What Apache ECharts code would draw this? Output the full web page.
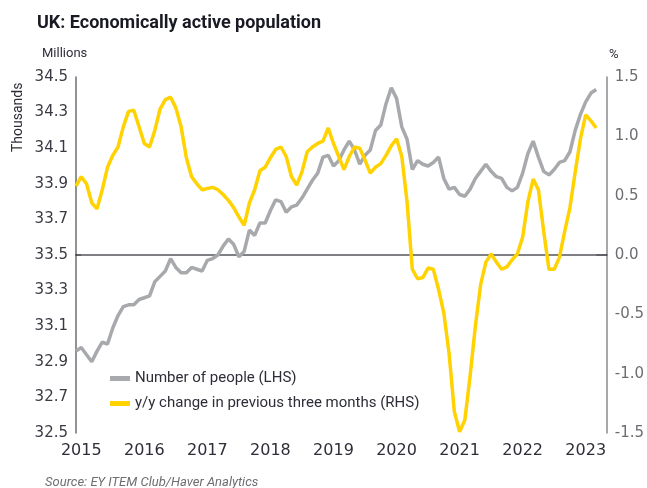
<!DOCTYPE html>
<html>
<head>
<meta charset="utf-8">
<script src="https://cdn.jsdelivr.net/npm/echarts@6/dist/echarts.min.js"></script>
<style>
  html, body { margin: 0; padding: 0; background: #fff; }
  #main { width: 647px; height: 488px; }
</style>
</head>
<body>
<div id="main"></div>
<script>
// monthly, Dec 2014 .. May 2023 (last two months have no data)
const months = [];
for (let y = 2014; y <= 2023; y++) {
  for (let m = 1; m <= 12; m++) {
    if (y === 2014 && m < 12) continue;
    if (y === 2023 && m > 5) continue;
    months.push(y + '-' + String(m).padStart(2, '0'));
  }
}

// Number of people, millions (LHS)
const people = [
  32.96, 32.98, 32.94, 32.90, 32.96, 33.01, 33.00, 33.09, 33.16, 33.21,
  33.22, 33.22, 33.25, 33.26, 33.27, 33.35, 33.38, 33.41, 33.48, 33.43,
  33.40, 33.40, 33.43, 33.42, 33.41, 33.47, 33.48, 33.50, 33.55, 33.59,
  33.56, 33.49, 33.52, 33.64, 33.61, 33.68, 33.68, 33.75, 33.81, 33.80,
  33.74, 33.77, 33.78, 33.82, 33.87, 33.92, 33.96, 34.05, 34.06, 34.00,
  34.03, 34.09, 34.14, 34.09, 34.01, 34.06, 34.09, 34.20, 34.23, 34.35,
  34.44, 34.38, 34.22, 34.15, 33.98, 34.03, 34.01, 34.00, 34.02, 34.05,
  33.93, 33.87, 33.88, 33.84, 33.83, 33.87, 33.93, 33.97, 34.01, 33.97,
  33.94, 33.93, 33.88, 33.86, 33.88, 33.96, 34.07, 34.14, 34.05, 33.97,
  33.95, 33.98, 34.02, 34.03, 34.08, 34.20, 34.29, 34.36, 34.41, 34.43,
  null, null
];

// y/y change in previous three months, % (RHS)
const change = [
  0.58, 0.66, 0.60, 0.44, 0.39, 0.55, 0.74, 0.84, 0.91, 1.08,
  1.21, 1.22, 1.08, 0.94, 0.91, 1.05, 1.23, 1.31, 1.33, 1.24,
  1.08, 0.82, 0.66, 0.60, 0.55, 0.56, 0.57, 0.55, 0.51, 0.46,
  0.40, 0.32, 0.25, 0.44, 0.55, 0.71, 0.74, 0.82, 0.89, 0.91,
  0.83, 0.66, 0.59, 0.70, 0.87, 0.91, 0.94, 0.96, 1.07, 0.94,
  0.83, 0.72, 0.83, 0.91, 0.90, 0.80, 0.69, 0.74, 0.77, 0.84,
  0.92, 0.98, 0.83, 0.45, -0.12, -0.20, -0.19, -0.11, -0.12, -0.29,
  -0.49, -0.83, -1.32, -1.49, -1.39, -1.02, -0.60, -0.25, -0.06, 0.01,
  -0.06, -0.12, -0.10, -0.04, 0.01, 0.15, 0.45, 0.64, 0.55, 0.20,
  -0.12, -0.12, -0.02, 0.20, 0.40, 0.70, 0.98, 1.18, 1.13, 1.07,
  null, null
];

const seriesNames = ['Number of people (LHS)', 'y/y change in previous three months (RHS)'];

const chart = echarts.init(document.getElementById('main'));
const font = 'DejaVu Sans';
const option = {
  animation: false,
  grid: { left: 76, right: 38, top: 77, bottom: 55 },
  graphic: [
    { type: 'text', left: 37, top: 14,
      style: { text: 'UK: Economically active population', font: 'bold 18px Roboto', fill: '#1a1a24' } },
    { type: 'text', left: 42, top: 47,
      style: { text: 'Millions', font: '13px Roboto', fill: '#2e2e38' } },
    { type: 'text', left: 609, top: 48,
      style: { text: '%', font: '13px Roboto', fill: '#2e2e38' } },
    { type: 'text', x: 11, y: 152, rotation: Math.PI / 2,
      style: { text: 'Thousands', font: '14px Roboto', fill: '#2e2e38' } },
    { type: 'text', left: 45, top: 476,
      style: { text: 'Source: EY ITEM Club/Haver Analytics', font: 'italic 13px Roboto', fill: '#6d6e71' } }
  ],
  legend: {
    orient: 'vertical',
    left: 105,
    top: 366,
    itemWidth: 20,
    itemHeight: 5,
    itemGap: 10,
    icon: 'rect',
    textStyle: { fontFamily: 'Roboto', fontSize: 15, color: '#2e2e38' },
    data: seriesNames
  },
  xAxis: {
    type: 'category',
    data: months,
    boundaryGap: false,
    axisTick: { show: false },
    axisLine: { lineStyle: { color: '#2e2e38', width: 1.5 } },
    axisLabel: {
      interval: (idx, val) => val.endsWith('-01'),
      formatter: val => val.slice(0, 4),
      fontFamily: font, fontSize: 16, color: '#2e2e38', margin: 10
    }
  },
  yAxis: [
    {
      type: 'value', min: 32.5, max: 34.5, interval: 0.2,
      splitLine: { show: false },
      axisTick: { show: false },
      axisLine: { show: true, lineStyle: { color: '#6d6e71', width: 1.5 } },
      axisLabel: { formatter: v => v.toFixed(1), fontFamily: font, fontSize: 15, color: '#3a3a44', margin: 8 }
    },
    {
      type: 'value', min: -1.5, max: 1.5, interval: 0.5,
      splitLine: { show: false },
      axisTick: { show: false },
      axisLine: { show: true, lineStyle: { color: '#8a8b8d', width: 1.5 } },
      axisLabel: { formatter: v => v.toFixed(1), fontFamily: font, fontSize: 15, color: '#6d6e71', margin: 8 }
    }
  ],
  series: [
    {
      name: seriesNames[0],
      type: 'line',
      yAxisIndex: 0,
      data: people,
      showSymbol: false,
      itemStyle: { color: '#a7a9ac' },
      lineStyle: { color: '#a7a9ac', width: 3.5 },
      z: 3
    },
    {
      name: seriesNames[1],
      type: 'line',
      yAxisIndex: 1,
      data: change,
      showSymbol: false,
      itemStyle: { color: '#ffd200' },
      lineStyle: { color: '#ffd200', width: 3.5 },
      z: 4,
      markLine: {
        silent: true,
        symbol: 'none',
        label: { show: false },
        lineStyle: { color: '#8a8b8d', width: 1.5, type: 'solid' },
        z: 1,
        data: [[{ coord: ['2015-01', 0] }, { coord: ['2023-03', 0] }]]
      }
    }
  ]
};
chart.setOption(option);
</script>
</body>
</html>
